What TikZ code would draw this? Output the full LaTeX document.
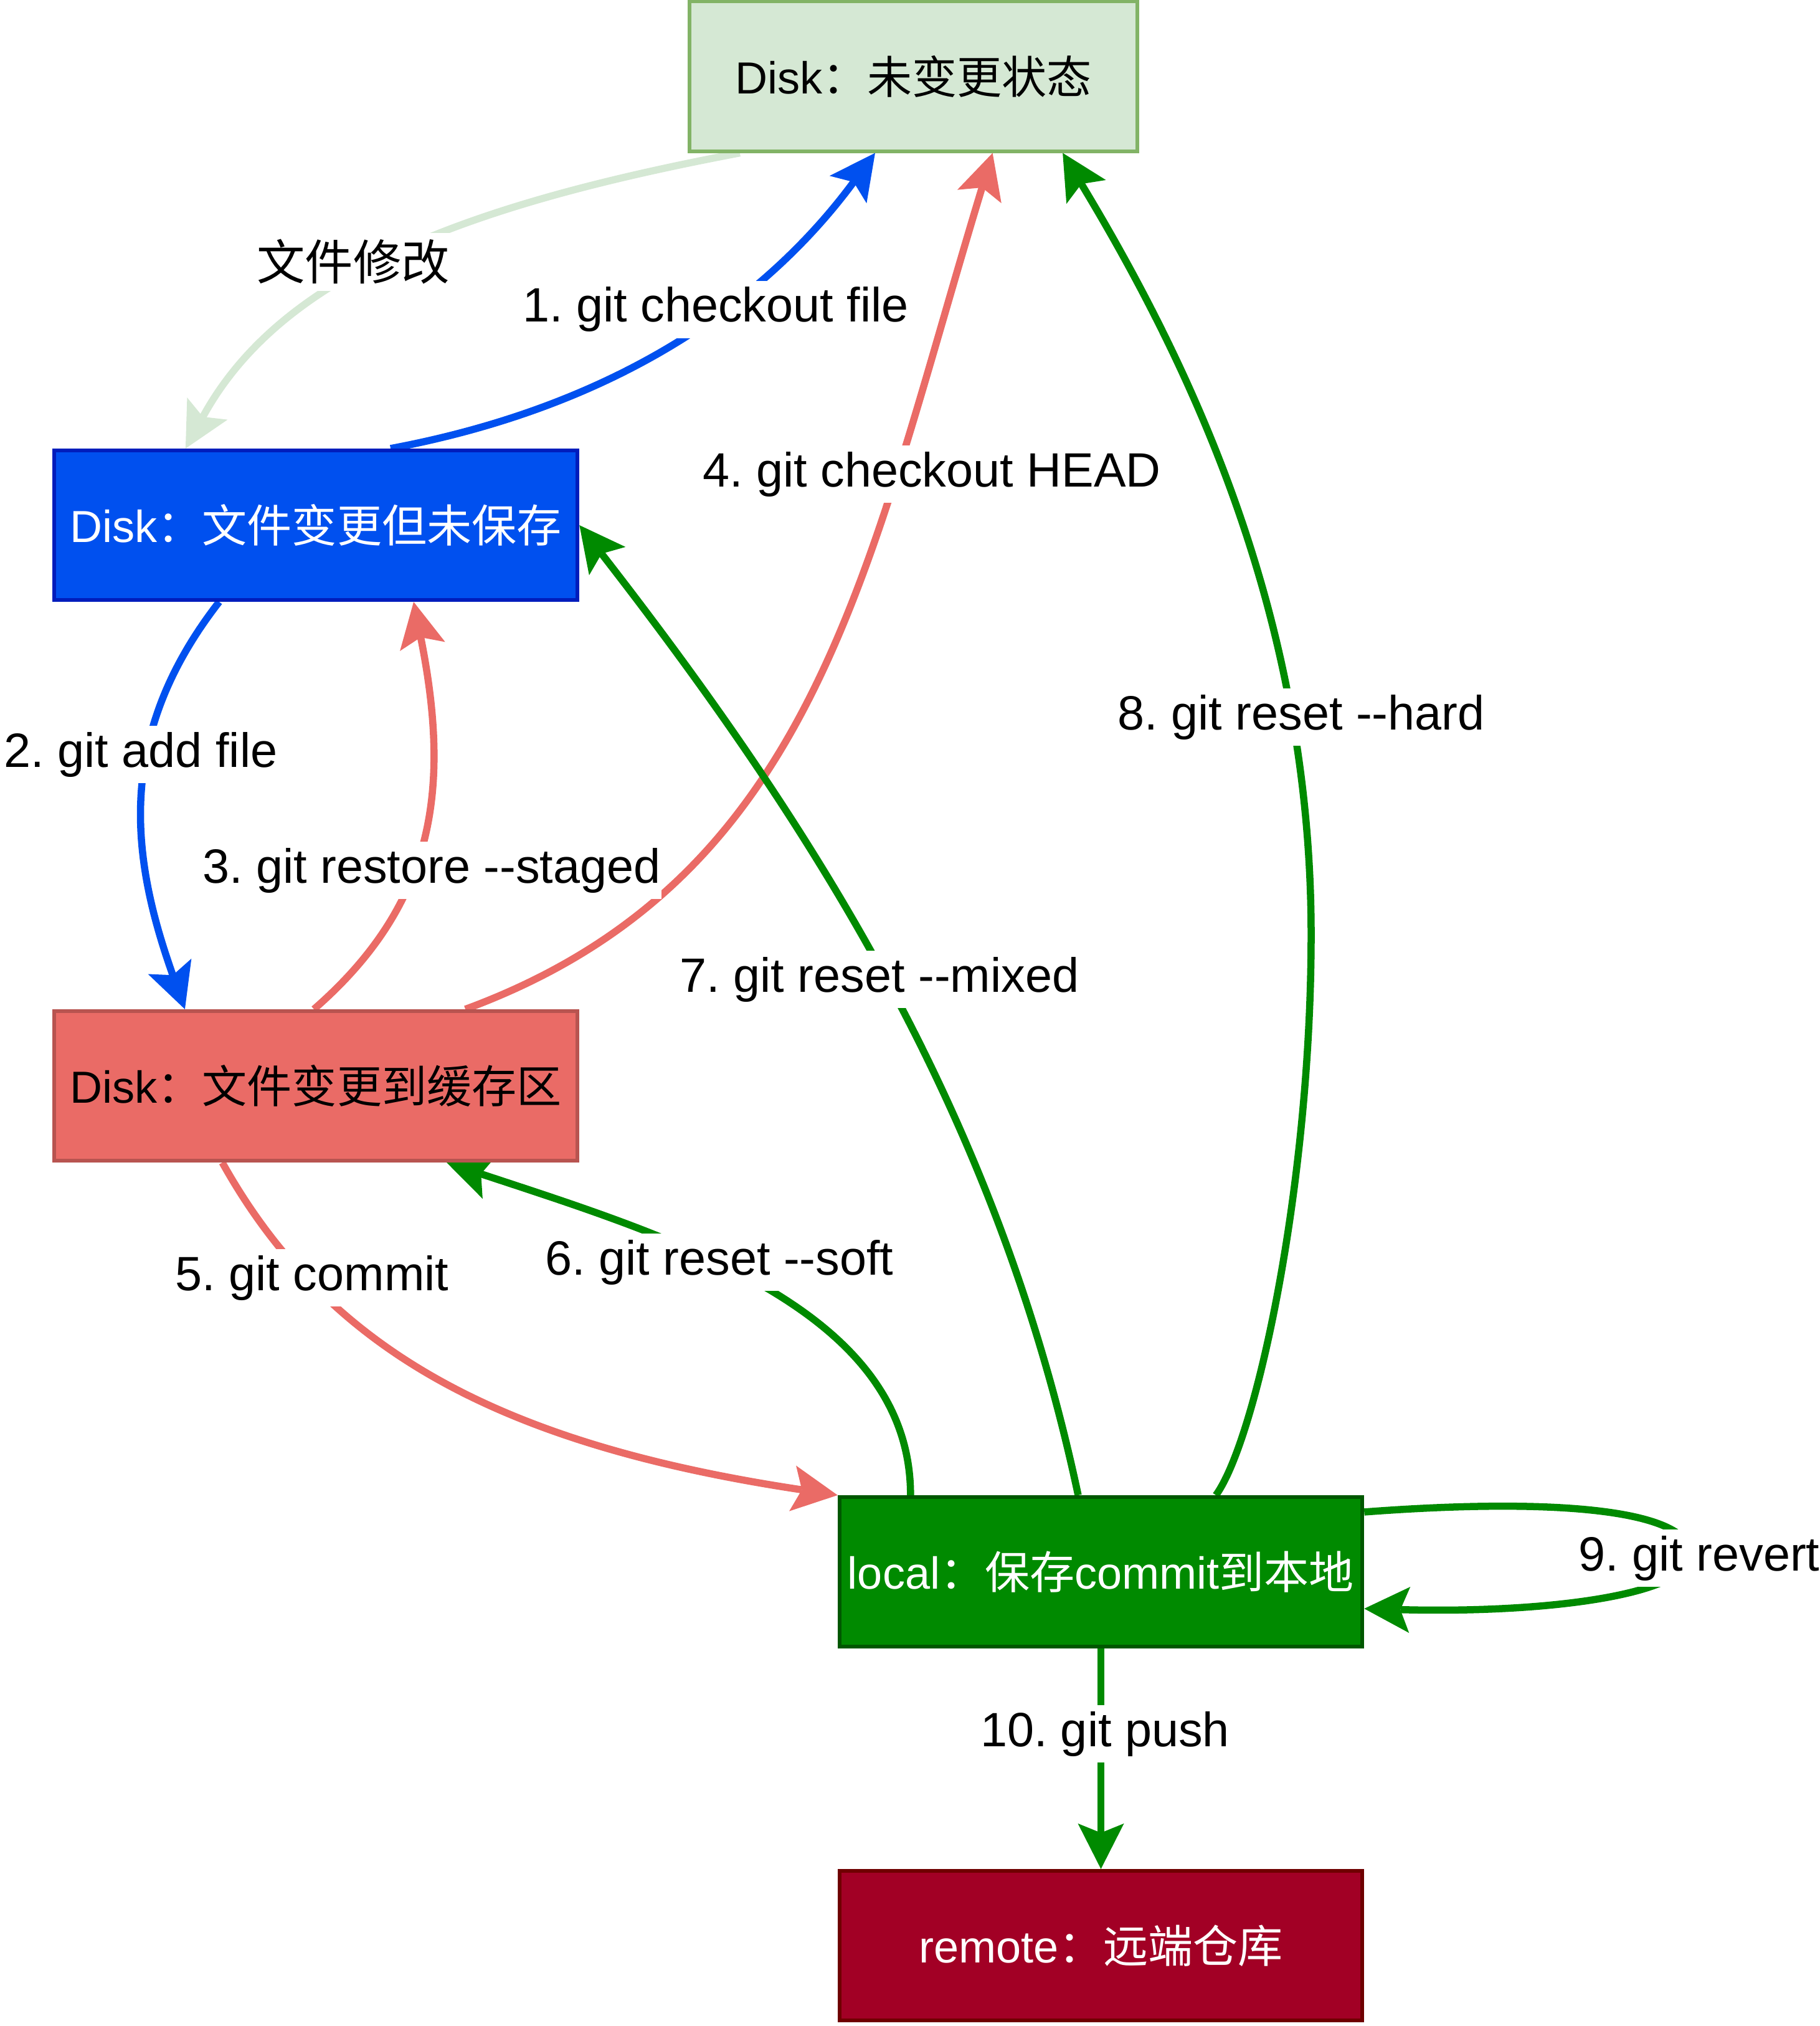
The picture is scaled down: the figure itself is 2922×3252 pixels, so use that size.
\documentclass[tikz,border=0pt]{standalone}
\usepackage{fontspec}
\setmainfont{Liberation Sans}
\newfontfamily\cjk{Noto Sans CJK SC}
\newcommand\zh[1]{{\cjk #1}}
\usetikzlibrary{arrows.meta}
\pgfdeclarelayer{background}
\pgfsetlayers{background,main}
\frenchspacing

\definecolor{cleanfill}{HTML}{D5E8D4}
\definecolor{cleanline}{HTML}{82B366}
\definecolor{bluefill}{HTML}{0050EF}
\definecolor{blueline}{HTML}{001DBC}
\definecolor{redfill}{HTML}{EA6B66}
\definecolor{redline}{HTML}{B85450}
\definecolor{greenfill}{HTML}{008A00}
\definecolor{greenline}{HTML}{005700}
\definecolor{remotefill}{HTML}{A20025}
\definecolor{remoteline}{HTML}{6F0000}

\begin{document}
\begin{tikzpicture}[x=0.01cm,y=-0.01cm,
  state/.style={draw, rectangle, line width=0.06cm, minimum height=2.4cm,
    inner sep=0pt, font=\fontsize{20.5}{24}\selectfont},
  flow/.style={line width=0.115cm,
    -{Stealth[length=0.73cm,width=0.74cm,inset=0.15cm,line width=0pt]}},
  tag/.style={fill=white, inner xsep=0.01cm, inner ysep=0.1cm, anchor=base,
    font=\fontsize{22}{26}\selectfont},
]
\useasboundingbox (0,0) rectangle (2922,3252);

% states of a file
\node[state, fill=cleanfill, draw=cleanline, minimum width=7.19cm] (clean) at (1466.5,122.5) {Disk\zh{：未变更状态}};
\node[state, fill=bluefill, draw=blueline, text=white, minimum width=8.4cm] (modified) at (507,843) {Disk\zh{：文件变更但未保存}};
\node[state, fill=redfill, draw=redline, minimum width=8.4cm] (staged) at (507,1743) {Disk\zh{：文件变更到缓存区}};
\node[state, fill=greenfill, draw=greenline, text=white, minimum width=8.39cm] (local) at (1767.5,2523) {local\zh{：保存}commit\zh{到本地}};
\node[state, fill=remotefill, draw=remoteline, text=white, minimum width=8.39cm] (remote) at (1767.5,3123) {remote\zh{：远端仓库}};

% transitions
\begin{pgfonlayer}{background}
\draw[flow, cleanfill] ([xshift=-2.785cm]clean.south) .. controls (747,329) and (451,440) .. ([xshift=-2.09cm]modified.north);
\draw[flow, bluefill] ([xshift=1.2cm]modified.north) .. controls (1010,648) and (1239,470) .. ([xshift=-0.615cm]clean.south);
\draw[flow, bluefill] ([xshift=-1.55cm]modified.south) .. controls (183,1183) and (211,1378) .. ([xshift=-2.1cm]staged.north);
\draw[flow, redfill] ([xshift=-0.03cm]staged.north) .. controls (699,1450) and (724,1266) .. ([xshift=1.57cm]modified.south);
\draw[flow, redfill] ([xshift=2.4cm]staged.north) .. controls (1311,1412) and (1390,915) .. ([xshift=1.27cm]clean.south);
\draw[flow, redfill] ([xshift=-1.5cm]staged.south) .. controls (525,2167) and (801,2318) .. (local.north west);
\draw[flow, greenfill] ([xshift=-3.055cm]local.north) .. controls (1462,2101) and (1077,1985) .. ([xshift=2.1cm]staged.south);
\draw[flow, greenfill] ([xshift=-0.365cm]local.north) .. controls (1606,1813) and (1330,1357) .. (modified.east);
\draw[flow, greenfill] ([xshift=1.845cm]local.north) .. controls (2017,2310) and (2105,1900) .. (2105,1500)
  .. controls (2105,1000) and (1920,600) .. ([xshift=2.395cm]clean.south);
\draw[flow, greenfill] ([yshift=0.96cm]local.east) .. controls (2480,2405) and (2700,2420) .. (2715,2490)
  .. controls (2725,2560) and (2480,2590) .. ([yshift=-0.59cm]local.east);
\draw[flow, greenfill] (local.south) -- (remote.north);
\end{pgfonlayer}

% commands on the transitions
\node[tag] (t0) at (567,450) {\zh{文件修改}};
\node[tag] (t1) at (1149,517) {1. git checkout file};
\node[tag] (t2) at (226,1231) {2. git add file};
\node[tag] (t3) at (693,1417) {3. git restore -{}-staged};
\node[tag] (t4) at (1496,781) {4. git checkout HEAD};
\node[tag] (t5) at (501,2071) {5. git commit};
\node[tag] (t6) at (1155,2046) {6. git reset -{}-soft};
\node[tag] (t7) at (1412,1592) {7. git reset -{}-mixed};
\node[tag] (t8) at (2089,1171) {8. git reset -{}-hard};
\node[tag] (t9) at (2728,2521) {9. git revert};
\node[tag] (t10) at (1774,2803) {10. git push};
\end{tikzpicture}
\end{document}
